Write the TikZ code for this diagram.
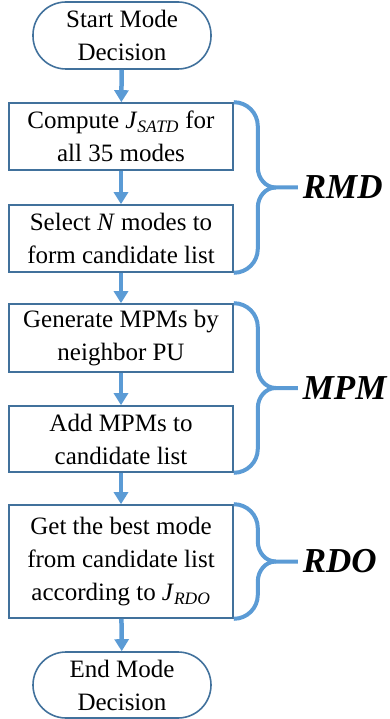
\documentclass[tikz,border=0pt]{standalone}
\usepackage{fontspec}
\setmainfont{Liberation Serif}
\usetikzlibrary{arrows.meta,calc}

\definecolor{boxline}{RGB}{65,113,156}
\definecolor{flowblue}{RGB}{91,155,213}

\tikzset{
  stepbox/.style={draw=boxline, line width=1.6pt, minimum width=224pt,
    align=center, inner sep=2pt, font=\fontsize{25}{33}\selectfont},
  termbox/.style={stepbox, minimum width=178pt, minimum height=67pt,
    rounded corners=33pt},
  flow/.style={flowblue, line width=4.5pt,
    -{Triangle[width=14pt,length=12pt]}},
  brace/.style={flowblue, line width=4pt},
  grouplabel/.style={text=black, font=\fontsize{35}{35}\selectfont\bfseries\itshape,
    inner sep=0pt},
}

\begin{document}
\begin{tikzpicture}[x=1pt, y=1pt]
  \useasboundingbox (0,0) rectangle (390,-719);
  % 流程节点
  \node[termbox] (start) at (122,-35.5) {Start Mode\\Decision};
  \node[stepbox, minimum height=67pt] (satd) at (121,-136.5)
    {Compute \textit{J}\textsubscript{\textit{SATD}} for\\all 35 modes};
  \node[stepbox, minimum height=67pt] (sel) at (121,-238.5)
    {Select \textit{N} modes to\\form candidate list};
  \node[stepbox, minimum height=68pt] (gen) at (121,-338)
    {Generate MPMs by\\neighbor PU};
  \node[stepbox, minimum height=66pt] (add) at (121,-439)
    {Add MPMs to\\candidate list};
  \node[stepbox, minimum height=113pt] (best) at (121,-561.5)
    {Get the best mode\\from candidate list\\according to \textit{J}\textsubscript{\textit{RDO}}};
  \node[termbox, minimum height=66pt] (end) at (122,-685) {End Mode\\Decision};
  % 箭头
  \foreach \a/\b in {start/satd, satd/sel, sel/gen, gen/add, add/best, best/end} {
    \draw[flow] (\a) -- (\b);
  }
  % 括号和标签
  \foreach \a/\b/\lab in {satd/sel/RMD, gen/add/MPM, best/best/RDO} {
    \coordinate (m) at ($(\a.north east)!0.5!(\b.south east)$);
    \draw[brace] (\a.north east) to[out=0,in=90] ($(\a.north east)+(24,-24)$)
      -- ($(m)+(24,20)$) to[out=-90,in=180] ($(m)+(42,0)$) -- ($(m)+(64,0)$)
      node[grouplabel, right=3pt] (\lab) {\lab};
    \draw[brace] (\b.south east) to[out=0,in=-90] ($(\b.south east)+(24,24)$)
      -- ($(m)+(24,-20)$) to[out=90,in=180] ($(m)+(42,0)$);
  }
\end{tikzpicture}
\end{document}
